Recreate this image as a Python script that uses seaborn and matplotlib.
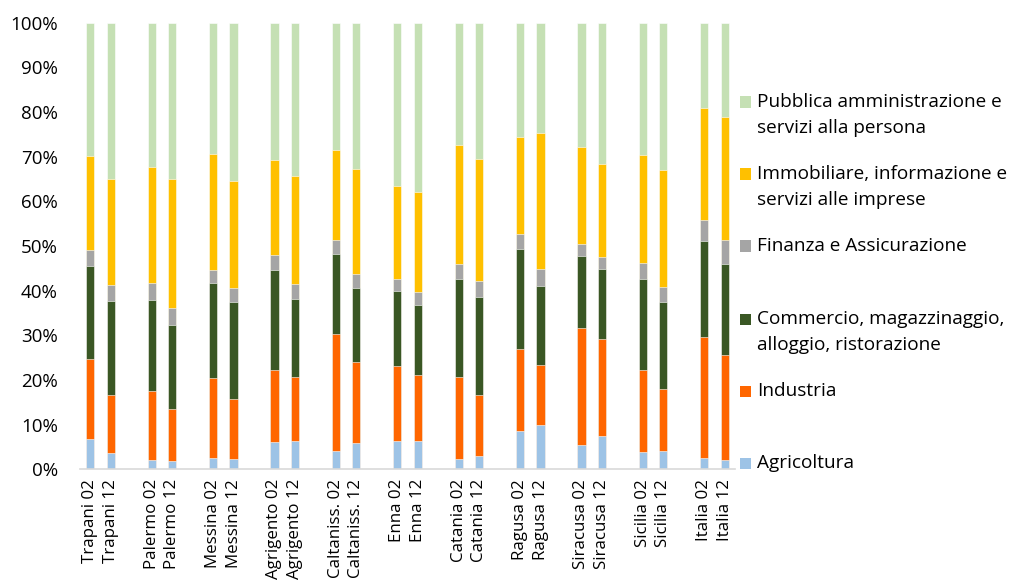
import numpy as np
import pandas as pd
import seaborn as sns
import matplotlib.pyplot as plt
from matplotlib.patches import Rectangle
from matplotlib.ticker import PercentFormatter, MultipleLocator

# Employment shares by sector (%), 2002 and 2012, per province
provinces = ["Trapani", "Palermo", "Messina", "Agrigento", "Caltaniss.", "Enna",
             "Catania", "Ragusa", "Siracusa", "Sicilia", "Italia"]
years = ["02", "12"]

agricoltura = [6.7, 3.7, 2.1, 1.9, 2.5, 2.3, 6.1, 6.4, 4.2, 6.0, 6.4,
               6.3, 2.4, 3.0, 8.6, 9.9, 5.4, 7.5, 3.9, 4.2, 2.5, 2.1]
industria = [18.1, 12.9, 15.4, 11.6, 17.9, 13.4, 16.2, 14.3, 26.1, 18.1, 16.7,
             14.9, 18.3, 13.6, 18.3, 13.5, 26.2, 21.6, 18.3, 13.8, 27.2, 23.6]
commercio = [20.7, 21.1, 20.3, 18.7, 21.4, 21.8, 22.4, 17.5, 18.0, 16.6, 16.9,
             15.7, 22.0, 22.0, 22.5, 17.7, 16.2, 15.7, 20.5, 19.4, 21.5, 20.3]
finanza = [3.5, 3.6, 4.0, 3.9, 2.9, 3.1, 3.3, 3.4, 3.1, 3.0, 2.5,
           2.8, 3.3, 3.6, 3.2, 3.7, 2.7, 2.7, 3.4, 3.5, 4.7, 5.4]
immobiliare = [21.2, 23.6, 26.0, 28.8, 25.8, 24.0, 21.3, 24.1, 20.2, 23.6, 20.9,
               22.5, 26.7, 27.2, 21.7, 30.6, 21.6, 20.8, 24.3, 26.1, 25.1, 27.4]
pubblica = [29.8, 35.1, 32.2, 35.1, 29.5, 35.4, 30.7, 34.3, 28.4, 32.7, 36.6,
            37.8, 27.3, 30.6, 25.7, 24.6, 27.9, 31.7, 29.6, 33.0, 19.0, 21.2]

sectors = ["Agricoltura", "Industria",
           "Commercio, magazzinaggio,\nalloggio, ristorazione",
           "Finanza e Assicurazione",
           "Immobiliare, informazione e\nservizi alle imprese",
           "Pubblica amministrazione e\nservizi alla persona"]
colors = ["#9DC3E6", "#FF6600", "#3A5724", "#A5A5A5", "#FFC000", "#C5E0B4"]

shares = np.array([agricoltura, industria, commercio, finanza, immobiliare, pubblica])
cumulative = shares.cumsum(axis=0)

labels = [f"{p} {y}" for p in provinces for y in years]
# two bars per province, one empty slot between provinces
positions = [3 * i + j for i in range(len(provinces)) for j in range(len(years))]

rows = []
for s, name in enumerate(sectors):
    for b, pos in enumerate(positions):
        rows.append({"pos": pos, "sector": name, "top": cumulative[s, b]})
df = pd.DataFrame(rows)

sns.set_theme(style="white")
plt.rcParams["font.family"] = ["Open Sans", "DejaVu Sans"]
plt.rcParams["text.color"] = "#262626"

fig = plt.figure(figsize=(10.11, 5.81), dpi=100)
ax = fig.add_axes([80 / 1011, 1 - 469.3 / 581, 655 / 1011, 446.6 / 581])

# stacked bars: draw cumulative totals from the top segment downwards
for s in range(len(sectors) - 1, -1, -1):
    sub = df[df["sector"] == sectors[s]]
    sns.barplot(data=sub, x="pos", y="top", native_scale=True, orient="x",
                color=colors[s], saturation=1, width=0.4, errorbar=None,
                edgecolor="white", linewidth=0.4, ax=ax)

ax.set_xlim(-0.5, positions[-1] + 0.5)
ax.set_ylim(0, 100)
ax.yaxis.set_major_locator(MultipleLocator(10))
ax.yaxis.set_major_formatter(PercentFormatter(100, decimals=0))
ax.set_xticks(positions)
ax.set_xticklabels(labels, rotation=90, fontsize=12.2, color="#000000")
ax.tick_params(axis="y", labelsize=13.5, length=0, pad=16, labelcolor="#000000")
ax.tick_params(axis="x", length=0, pad=7)
ax.set_xlabel("")
ax.set_ylabel("")
for side in ["top", "right", "left"]:
    ax.spines[side].set_visible(False)
ax.spines["bottom"].set_color("#D9D9D9")
ax.spines["bottom"].set_linewidth(1.2)

# legend, top entry first, evenly spaced
entry_y = [102, 174, 246, 319, 391, 463]
for k, s in enumerate(range(len(sectors) - 1, -1, -1)):
    y = entry_y[k]
    fig.patches.append(Rectangle((740 / 1011, 1 - (y + 5.5) / 581), 11 / 1011, 11 / 581,
                                 transform=fig.transFigure, facecolor=colors[s],
                                 edgecolor="none"))
    for li, line in enumerate(sectors[s].split("\n")):
        fig.text(757 / 1011, 1 - (y + 26 * li) / 581, line, fontsize=13.7,
                 va="center", ha="left", color="#000000")

fig.savefig("out.png", dpi=100)
